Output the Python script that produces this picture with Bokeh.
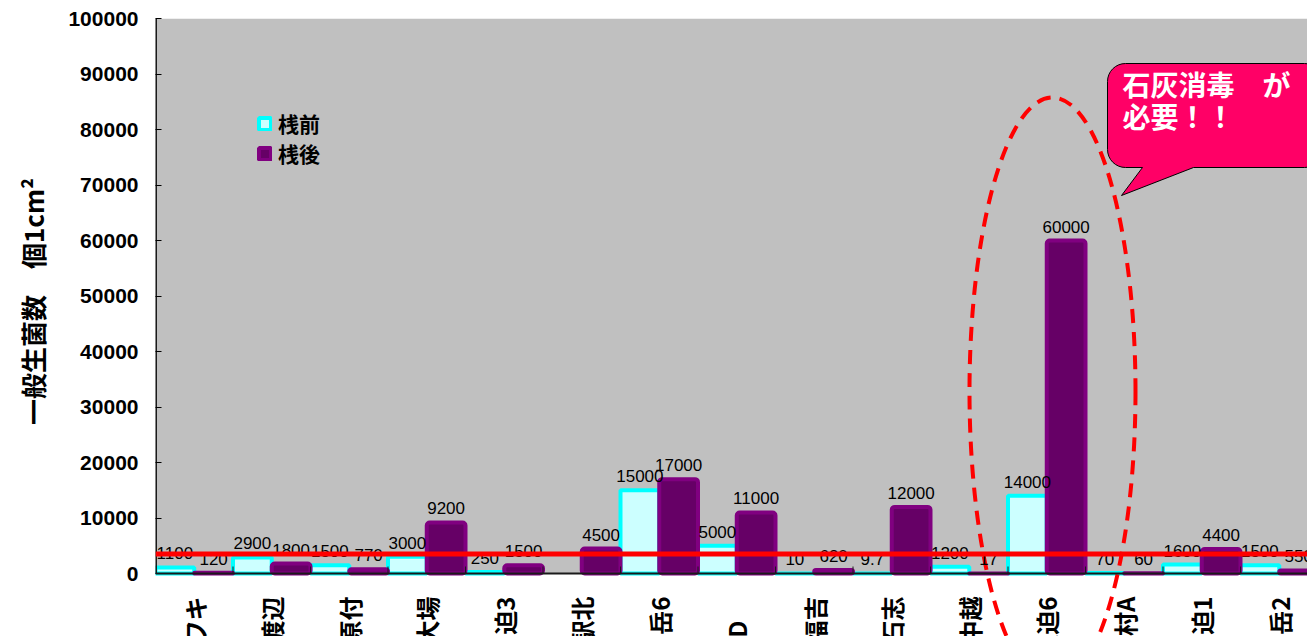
import math

from bokeh.core.properties import value
from bokeh.embed import file_html
from bokeh.models import (BasicTickFormatter, BoxAnnotation, ColumnDataSource,
                          FixedTicker, LabelSet, Legend, LegendItem,
                          Range1d, Span)
from bokeh.plotting import figure
from bokeh.resources import INLINE

# ---- data -------------------------------------------------------------
sites = ["ワキ", "渡辺", "原付", "大場", "西迫3", "駅北", "中岳6", "第D\u3000",
         "福吉", "石志", "中越", "東迫6", "中村A", "西迫1", "中岳2"]
before = [1100, 2900, 1500, 3000, 250, float("nan"), 15000, 5000,
          10, 9.7, 1200, 14000, 70, 1600, 1500]
after = [120, 1800, 770, 9200, 1500, 4500, 17000, 11000,
         620, 12000, 17, 60000, 60, 4400, 550]
series_names = ["桟前", "桟後"]
limit = 3500
y_ticks = list(range(0, 100001, 10000))
# two leading ideographic spaces lift the title above the frame's centre
y_title = "\u3000\u3000一般生菌数\u3000個1cm²"
callout_lines = ["石灰消毒\u3000が", "必要！！"]

# ---- page geometry (pixels) -----------------------------------------------
W, H = 1307, 636
FRAME_L, FRAME_T = 155, 18
ZERO_PX = 573
GROUP_PX = 77.5
Y_PX = (ZERO_PX - FRAME_T) / 100000


def dx(px):
    return (px - FRAME_L) / GROUP_PX


def dy(py):
    return (ZERO_PX - py) / Y_PX


def fmt(v):
    return "" if v != v else f"{v:g}"


n = len(sites)
src = ColumnDataSource(dict(
    xb=[i + 0.25 for i in range(n)],
    xa=[i + 0.75 for i in range(n)],
    xc=[i + 0.5 for i in range(n)],
    before=before,
    after=after,
    before_lbl=[fmt(v) for v in before],
    after_lbl=[fmt(v) for v in after],
    site=sites,
))

p = figure(width=W, height=H, x_range=Range1d(0, dx(W)),
           y_range=Range1d(dy(H), 100000), x_axis_type=None,
           output_backend="svg", toolbar_location=None,
           min_border_left=FRAME_L, min_border_right=0,
           min_border_top=FRAME_T, min_border_bottom=0)
p.outline_line_color = None
p.grid.visible = False
p.background_fill_color = "white"
p.border_fill_color = "white"

# grey plotting area above the zero line
p.add_layout(BoxAnnotation(bottom=0, fill_color="#C0C0C0", fill_alpha=1,
                           line_color=None, level="underlay"))

# y axis
ya = p.yaxis[0]
ya.ticker = FixedTicker(ticks=y_ticks)
ya.formatter = BasicTickFormatter(use_scientific=False)
ya.axis_line_color = None
ya.major_tick_in = 6
ya.major_tick_out = 0
ya.minor_tick_in = 0
ya.minor_tick_out = 0
ya.major_tick_line_color = "black"
ya.major_label_standoff = 17
ya.major_label_text_font = "Liberation Sans"
ya.major_label_text_font_style = "bold"
ya.major_label_text_font_size = "21px"
ya.major_label_text_color = "black"
ya.axis_label = y_title
ya.axis_label_standoff = 14
ya.axis_label_text_font = "Noto Sans CJK JP"
ya.axis_label_text_font_style = "bold"
ya.axis_label_text_font_size = "26px"
ya.axis_label_text_color = "black"

# bars
r_before = p.vbar(x="xb", top="before", bottom=0, width=0.5, source=src,
                  fill_color="#CCFFFF", line_color="#00FFFF", line_width=4)
r_after = p.vbar(x="xa", top="after", bottom=0, width=0.5, source=src,
                 fill_color="#660066", line_color="#800080", line_width=4,
                 border_radius=3)

# value labels
for xcol, ycol, tcol in (("xb", "before", "before_lbl"), ("xa", "after", "after_lbl")):
    p.add_layout(LabelSet(x=xcol, y=ycol, text=tcol, source=src,
                          text_align="center", text_baseline="alphabetic",
                          y_offset=8, text_font=value("Liberation Sans"),
                          text_font_size="17px", text_color="black"))

# threshold line
p.add_layout(Span(location=limit, dimension="width", line_color="#FF0000",
                  line_width=5))

# axes lines and group separators
p.add_layout(Span(location=0, dimension="width", line_color="#1a1a1a",
                  line_width=2))
p.segment(x0=[0], y0=[0], x1=[0], y1=[100000], line_color="#1a1a1a",
          line_width=3)
p.segment(x0=list(range(1, n)), y0=[0] * (n - 1), x1=list(range(1, n)),
          y1=[dy(566)] * (n - 1), line_color="#1a1a1a", line_width=1)

# category labels, rotated
p.text(x="xc", y=dy(596), text="site", source=src, angle=math.pi / 2,
       text_align="right", text_baseline="middle",
       text_font=value("Noto Sans CJK JP"), text_font_style="bold",
       text_font_size="24px", text_color="black")

# callout bubble
def rounded_bubble(l, t, r, b, rad, tail):
    pts = []
    corners = [(r - rad, t + rad, -90, 0), (r - rad, b - rad, 0, 90),
               (l + rad, b - rad, 90, 180), (l + rad, t + rad, 180, 270)]
    for k, (cx, cy, a0, a1) in enumerate(corners):
        for s in range(9):
            a = math.radians(a0 + (a1 - a0) * s / 8)
            pts.append((cx + rad * math.cos(a), cy + rad * math.sin(a)))
        if k == 1:
            pts.extend(tail)
    return pts


bubble = rounded_bubble(1107, 63, 1322, 167, 18,
                        [(1193, 167), (1121, 195), (1142, 167)])
p.patch(x=[dx(a) for a, _ in bubble], y=[dy(b) for _, b in bubble],
        fill_color="#FF0066", line_color="black", line_width=1)
for k, line in enumerate(callout_lines):
    p.text(x=[dx(1122)], y=[dy(83 + 32 * k)], text=[line],
           text_align="left", text_baseline="middle",
           text_font=value("Noto Sans CJK JP"), text_font_style="bold",
           text_font_size="28px", text_color="white")

# dashed ellipse around the peak
p.ellipse(x=[dx(1052)], y=[dy(391)], width=[166], height=[588],
          width_units="screen", height_units="screen", fill_color=None,
          line_color="#FF0000", line_width=4, line_dash="14 9")

# legend
legend = Legend(items=[LegendItem(label=series_names[0], renderers=[r_before]),
                       LegendItem(label=series_names[1], renderers=[r_after])],
                location=(102, 468), padding=0, margin=0, spacing=0,
                glyph_width=15, glyph_height=15, label_height=16,
                label_standoff=6, background_fill_alpha=0,
                border_line_color=None,
                label_text_font="Noto Sans CJK JP", label_text_color="black",
                label_text_font_style="bold", label_text_font_size="21px")
p.add_layout(legend)

open("out.html", "w").write(file_html(p, INLINE))
